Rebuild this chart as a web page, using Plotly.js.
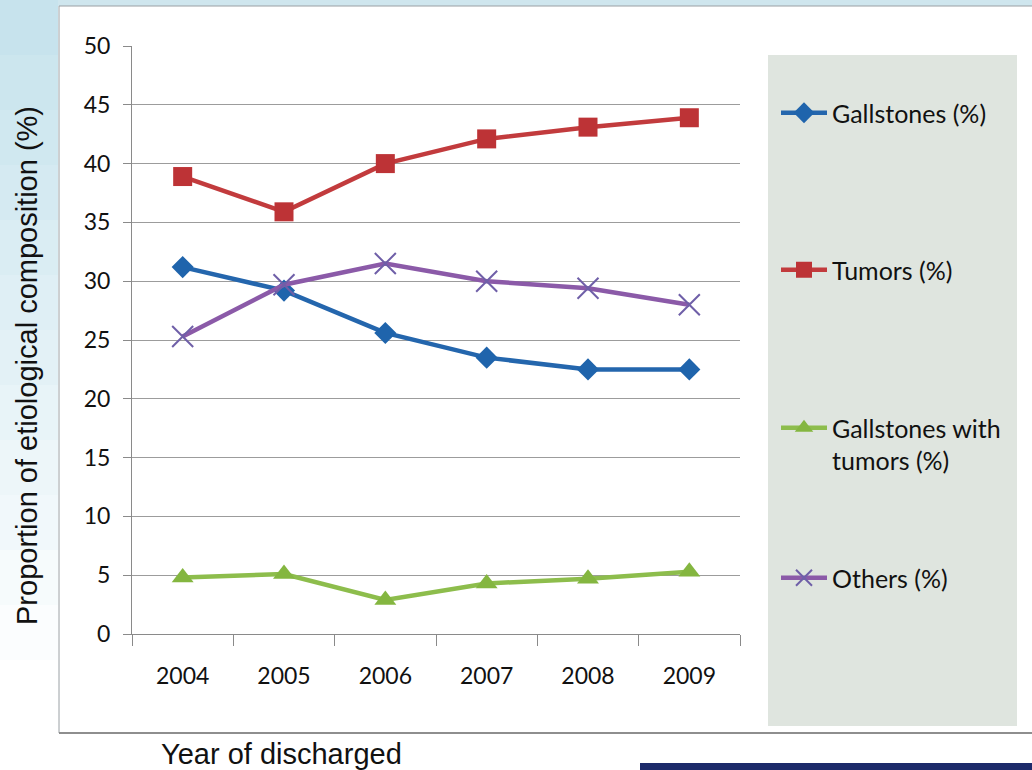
<!DOCTYPE html>
<html>
<head>
<meta charset="utf-8">
<script src="https://cdn.plot.ly/plotly-3.0.1.min.js"></script>
<style>html,body{margin:0;padding:0;background:#fff;}#chart{width:1032px;height:770px;}</style>
</head>
<body>
<div id="chart"></div>
<script>
const years = ['2004', '2005', '2006', '2007', '2008', '2009'];
const gallstones = [31.2, 29.2, 25.6, 23.5, 22.5, 22.5];
const tumors = [38.9, 35.9, 40.0, 42.1, 43.1, 43.9];
const gallstonesWithTumors = [4.8, 5.1, 2.9, 4.3, 4.7, 5.3];
const others = [25.3, 29.7, 31.5, 30.0, 29.4, 28.0];
const seriesNames = ['Gallstones (%)', 'Tumors (%)', 'Gallstones with<br>tumors (%)', 'Others (%)'];
const yTicks = [0, 5, 10, 15, 20, 25, 30, 35, 40, 45, 50];

// plot area in pixels
const L = 132, R = 740, T = 46, B = 634;
const px = v => (v - L) / (R - L);
const py = v => (B - v) / (B - T);

const traces = [
  {x: years, y: gallstones, name: seriesNames[0], legend: 'legend', mode: 'lines+markers',
   line: {color: '#2466ad', width: 4.5}, marker: {symbol: 'diamond', size: 17, color: '#1f64ac'}},
  {x: years, y: tumors, name: seriesNames[1], legend: 'legend2', mode: 'lines+markers',
   line: {color: '#c23b3d', width: 4.5}, marker: {symbol: 'square', size: 19, color: '#bd3336'}},
  {x: years, y: gallstonesWithTumors, name: seriesNames[2], legend: 'legend3', mode: 'lines+markers',
   line: {color: '#8dbd4c', width: 4.5}, marker: {symbol: 'triangle-up', size: 19, color: '#84b640'}},
  {x: years, y: others, name: seriesNames[3], legend: 'legend4', mode: 'lines+markers',
   line: {color: '#8b5aa8', width: 4.5}, marker: {symbol: 'x-thin-open', size: 21, color: '#6f5fa8', line: {width: 2, color: '#6f5fa8'}}}
];

const legFont = {family: 'Lato, "Open Sans", sans-serif', size: 25, color: '#111'};
function leg(ypx, anchor) {
  return {x: px(776), xanchor: 'left', y: py(ypx), yanchor: anchor, bgcolor: 'rgba(0,0,0,0)',
          font: legFont, itemwidth: 46, valign: 'top', borderwidth: 0};
}

// background shapes
const shapes = [];
const bands = 14;
for (let i = 0; i < bands; i++) {
  const y0 = i * 770 / bands, y1 = (i + 1) * 770 / bands;
  const a = Math.max(0, 0.95 - i * 0.08);
  shapes.push({type: 'rect', xref: 'paper', yref: 'paper', layer: 'below',
    x0: px(0), x1: px(58), y0: py(y1), y1: py(y0), line: {width: 0},
    fillcolor: 'rgba(196,226,236,' + a.toFixed(2) + ')'});
}
shapes.push({type: 'rect', xref: 'paper', yref: 'paper', layer: 'below',
  x0: px(58), x1: px(1032), y0: py(6), y1: py(0), line: {width: 0}, fillcolor: '#cfe6ee'});
shapes.push({type: 'line', xref: 'paper', yref: 'paper', layer: 'below',
  x0: px(59), x1: px(59), y0: py(733), y1: py(6), line: {width: 1, color: '#9aa0a4'}});
shapes.push({type: 'line', xref: 'paper', yref: 'paper', layer: 'below',
  x0: px(59), x1: px(1032), y0: py(6), y1: py(6), line: {width: 1, color: '#9aa0a4'}});
shapes.push({type: 'line', xref: 'paper', yref: 'paper', layer: 'below',
  x0: px(59), x1: px(1032), y0: py(733), y1: py(733), line: {width: 2, color: '#8e8e8e'}});
shapes.push({type: 'rect', xref: 'paper', yref: 'paper', layer: 'below',
  x0: px(768), x1: px(1017), y0: py(726), y1: py(55), line: {width: 0}, fillcolor: '#dfe5df'});
shapes.push({type: 'rect', xref: 'paper', yref: 'paper', layer: 'below',
  x0: px(640), x1: px(1032), y0: py(770), y1: py(763), line: {width: 0}, fillcolor: '#1d2a6a'});

const tickFont = {family: 'Lato, "Open Sans", sans-serif', size: 23, color: '#111'};
const layout = {
  width: 1032, height: 770,
  margin: {l: L, r: 1032 - R, t: T, b: 770 - B, pad: 0},
  paper_bgcolor: '#ffffff', plot_bgcolor: 'rgba(0,0,0,0)',
  showlegend: true,
  legend: leg(113, 'middle'),
  legend2: leg(270, 'middle'),
  legend3: leg(405, 'top'),
  legend4: leg(578, 'middle'),
  xaxis: {type: 'category', range: [-0.5, 5.5], tickson: 'boundaries', ticks: 'outside', ticklen: 11,
          tickcolor: '#8a8a8a', showline: true, linecolor: '#8a8a8a', linewidth: 1, showgrid: false,
          zeroline: false, ticklabelstandoff: 21, tickfont: tickFont},
  yaxis: {range: [0, 50], tickvals: yTicks, ticks: 'outside', ticklen: 8, tickcolor: '#8a8a8a',
          showline: true, linecolor: '#8a8a8a', linewidth: 1, showgrid: true, gridcolor: '#9c9c9c',
          gridwidth: 1, zeroline: false, ticklabelstandoff: 8, tickfont: tickFont},
  annotations: [
    {text: 'Proportion of etiological composition (%)', xref: 'paper', yref: 'paper',
     x: px(27), y: py(366), xanchor: 'center', yanchor: 'middle', textangle: -90, showarrow: false,
     font: {family: '"Liberation Sans", Arial, sans-serif', size: 29, color: '#111'}},
    {text: 'Year of discharged', xref: 'paper', yref: 'paper',
     x: px(159), y: py(754), xanchor: 'left', yanchor: 'middle', showarrow: false,
     font: {family: '"Liberation Sans", Arial, sans-serif', size: 29, color: '#111'}}
  ],
  shapes: shapes
};

Plotly.newPlot('chart', traces, layout, {displayModeBar: false, staticPlot: true});
</script>
</body>
</html>
